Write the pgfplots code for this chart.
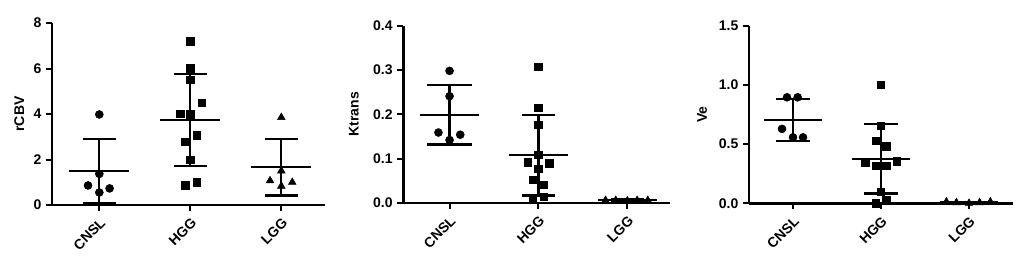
\documentclass[border=0pt]{standalone}
\usepackage{pgfplots}
\pgfplotsset{compat=1.18}
\usepackage{fontspec}
\setmainfont{Liberation Sans}
\newcommand\lbl{\fontsize{10.5}{12}\selectfont\bfseries}
\pgfplotsset{
  myax/.style={
    scale only axis, anchor=south west,
    xmin=-0.52, xmax=2.48, ymin=0,
    axis x line=bottom, axis y line=left,
    axis line style={-, line width=2pt},
    every tick/.style={line width=1.5pt, black},
    tick align=outside, major tick length=4.5pt,
    xtick={0,1,2}, xticklabels={CNSL,HGG,LGG},
    xticklabel style={rotate=45, anchor=north east, font=\lbl, inner sep=1pt},
    xticklabel shift=3pt,
    yticklabel style={font=\lbl},
    ylabel style={font=\lbl},
    clip=false,
    /pgf/number format/assume math mode=true,
  },
  pts/.style={only marks, black, mark options={fill=black, draw=black}},
  mline/.style={black, line width=1.6pt, mark=none},
  sdbar/.style={black, line width=1.6pt, mark=none,
    error bars/.cd, y dir=both, y explicit,
    error bar style={line width=1.6pt, black},
    error mark=-,
    error mark options={rotate=90, mark size=#1, line width=1.6pt, black}},
  sdbar/.default=12.5pt,
}
\begin{document}
\begin{tikzpicture}
\useasboundingbox (0pt,0pt) rectangle (768pt,191.25pt);
% ---------------- rCBV
\begin{axis}[myax, at={(39pt,37.5pt)}, width=204.75pt, height=136.5pt,
  ymax=8, ytick={0,2,4,6,8}, ylabel={rCBV}]
\addplot[pts, mark=*, mark size=3pt] coordinates {
 (0,3.98) (0,1.37) (-0.124,0.86) (0,0.55) (0.113,0.73)};
\addplot[pts, mark=square*, mark size=2.8pt] coordinates {
 (1,7.19) (1,6.02) (1,5.51) (1.128,4.49) (0.887,4.00) (1,3.98)
 (1.07,3.06) (0.945,2.78) (1,2.00) (0.945,0.86) (1.07,1.00)};
\addplot[pts, mark=triangle*, mark size=3.3pt] coordinates {
 (2,3.85) (2,1.50) (1.876,1.07) (2,0.83) (2.12,1.00)};
\addplot[mline] coordinates {(-0.33,1.50) (0.33,1.50)};
\addplot[mline] coordinates {(0.67,3.73) (1.33,3.73)};
\addplot[mline] coordinates {(1.67,1.67) (2.33,1.67)};
\addplot[sdbar] coordinates {(0,1.50) +- (0,1.42)};
\addplot[sdbar] coordinates {(1,3.73) +- (0,2.02)};
\addplot[sdbar] coordinates {(2,1.67) +- (0,1.25)};
\end{axis}
% ---------------- Ktrans
\begin{axis}[myax, at={(302.5pt,39pt)}, width=200pt, height=133pt,
  ymax=0.4, ytick={0,0.1,0.2,0.3,0.4}, ylabel={Ktrans},
  ylabel style={yshift=4pt},
  yticklabel style={/pgf/number format/fixed, /pgf/number format/precision=1,
    /pgf/number format/fixed zerofill}]
\addplot[pts, mark=*, mark size=3pt] coordinates {
 (0,0.298) (0,0.241) (-0.125,0.159) (0,0.142) (0.12,0.154)};
\addplot[pts, mark=square*, mark size=2.8pt] coordinates {
 (1,0.307) (1,0.215) (1,0.177) (1,0.109) (0.88,0.092) (1.12,0.090)
 (1,0.077) (0.936,0.053) (1.057,0.041) (0.936,0.008) (1.057,0.014)};
\addplot[pts, mark=triangle*, mark size=3.3pt] coordinates {
 (1.755,0.006) (1.87,0.006) (2,0.005) (2.11,0.006) (2.23,0.006)};
\addplot[mline] coordinates {(-0.33,0.199) (0.33,0.199)};
\addplot[mline] coordinates {(0.67,0.108) (1.33,0.108)};
\addplot[mline] coordinates {(1.67,0.006) (2.33,0.006)};
\addplot[sdbar=17pt] coordinates {(0,0.199) +- (0,0.067)};
\addplot[sdbar] coordinates {(1,0.108) +- (0,0.091)};
\addplot[sdbar] coordinates {(2,0.006) +- (0,0.002)};
\end{axis}
% ---------------- Ve
\begin{axis}[myax, at={(561.75pt,38.8pt)}, width=198pt, height=133.2pt,
  xmin=-0.5, xmax=2.5,
  ymax=1.5, ytick={0,0.5,1,1.5}, ylabel={Ve},
  ylabel style={yshift=2pt},
  yticklabel style={/pgf/number format/fixed, /pgf/number format/precision=1,
    /pgf/number format/fixed zerofill}]
\addplot[pts, mark=*, mark size=3pt] coordinates {
 (-0.068,0.895) (0.053,0.895) (-0.125,0.628) (0,0.557) (0.114,0.557)};
\addplot[pts, mark=square*, mark size=2.8pt] coordinates {
 (1,0.999) (1,0.656) (0.94,0.529) (1.06,0.481) (0.822,0.341) (0.94,0.318)
 (1.06,0.318) (1.18,0.355) (1,0.096) (0.94,0.0) (1.06,0.028)};
\addplot[pts, mark=triangle*, mark size=3.3pt] coordinates {
 (1.743,0.012) (1.857,0.006) (2,0.0) (2.12,0.006) (2.243,0.012)};
\addplot[mline] coordinates {(-0.33,0.704) (0.33,0.704)};
\addplot[mline] coordinates {(0.67,0.375) (1.33,0.375)};
\addplot[mline] coordinates {(1.67,0.007) (2.33,0.007)};
\addplot[sdbar] coordinates {(0,0.704) +- (0,0.175)};
\addplot[sdbar] coordinates {(1,0.375) +- (0,0.292)};
\addplot[sdbar] coordinates {(2,0.007) +- (0,0.005)};
\end{axis}
\end{tikzpicture}
\end{document}
